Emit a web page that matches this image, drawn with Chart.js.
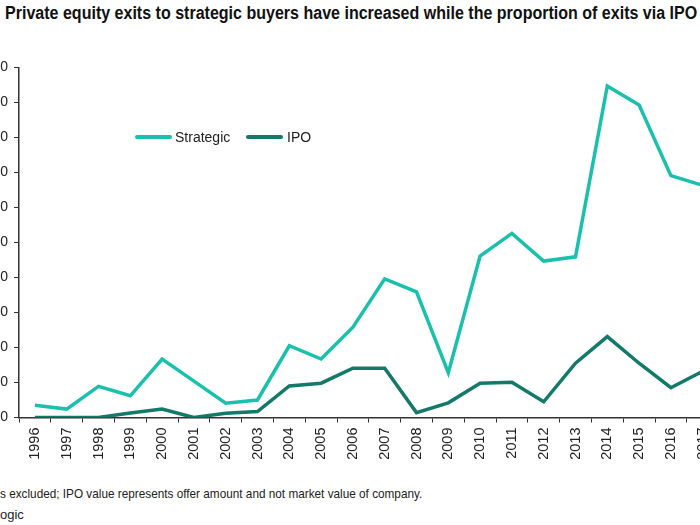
<!DOCTYPE html>
<html>
<head>
<meta charset="utf-8">
<script src="https://cdn.jsdelivr.net/npm/chart.js@4"></script>
<style>
  html, body { margin: 0; padding: 0; background: #fff; }
  body { width: 700px; height: 525px; overflow: hidden; position: relative; font-family: "Liberation Sans", Arial, sans-serif; }
  #title {
    position: absolute; left: 5px; top: 3px; white-space: nowrap; transform-origin: 0 0;
    font-family: "Liberation Sans", Arial, sans-serif;
    font-weight: bold; font-size: 18px; color: #111;
  }
  #wrap { position: absolute; left: -50px; top: 0; width: 780px; height: 480px; }
  .legend { position: absolute; top: 128px; font-size: 14px; color: #222; line-height: 18px; }
  .legend span.swatch { position: absolute; top: 7px; width: 37px; height: 4px; border-radius: 2px; }
  .legend span.lbl { position: absolute; white-space: nowrap; }
  .note {
    position: absolute; left: 0; white-space: nowrap; transform-origin: 0 0;
    font-family: "Liberation Sans", Arial, sans-serif;
    font-size: 13px; color: #222;
  }
</style>
</head>
<body>
<div id="title">Private equity exits to strategic buyers have increased while the proportion of exits via IPO</div>
<div id="wrap"><canvas id="exits-chart"></canvas></div>

<div class="legend" style="left:0">
  <span class="swatch" style="left:135px;background:#19c1ac"></span>
  <span class="lbl" style="left:175px">Strategic</span>
  <span class="swatch" style="left:246px;background:#137a69"></span>
  <span class="lbl" style="left:287px">IPO</span>
</div>

<div class="note" id="note1" style="top:486px">s excluded; IPO value represents offer amount and not market value of company.</div>
<div class="note" style="top:507px">ogic</div>

<script>
// ── Data ──────────────────────────────────────────────────────────────────
const years = ['1996','1997','1998','1999','2000','2001','2002','2003','2004','2005','2006',
               '2007','2008','2009','2010','2011','2012','2013','2014','2015','2016','2017'];
const strategic = [3.5, 2.4, 8.9, 6.2, 16.7, 10.4, 4.1, 5.0, 20.5, 16.7, 25.8,
                   39.6, 35.9, 12.8, 46.1, 52.6, 44.7, 45.9, 94.7, 89.3, 69.1, 66.3];
const ipo       = [0, 0, 0, 1.3, 2.4, 0, 1.2, 1.7, 9.0, 9.8, 14.1,
                   14.1, 1.4, 4.2, 9.8, 10.1, 4.5, 15.5, 23.1, 15.5, 8.5, 13.2];
const yTicks    = [0, 10, 20, 30, 40, 50, 60, 70, 80, 90, 100];

const AXIS = '#333333';
const FONT = 'Liberation Sans';

// squeeze condensed-looking text to the width it takes in the original
function fitWidth(id, target) {
    const el = document.getElementById(id);
    el.style.transform = `scaleX(${target / el.scrollWidth})`;
}
fitWidth('title', 692);
fitWidth('note1', 422);

const chart = new Chart(document.getElementById('exits-chart'), {
    type: 'line',
    data: {
        labels: years,
        datasets: [
            { label: 'Strategic', data: strategic, borderColor: '#19c1ac', borderWidth: 3.5,
              pointRadius: 0, tension: 0, fill: false },
            { label: 'IPO', data: ipo, borderColor: '#137a69', borderWidth: 3.5,
              pointRadius: 0, tension: 0, fill: false },
        ],
    },
    options: {
        responsive: true,
        maintainAspectRatio: false,
        animation: false,
        layout: { padding: { top: 67.5, right: 11.4, left: 0, bottom: 0 } },
        plugins: {
            legend:  { display: false },
            tooltip: { enabled: false },
        },
        scales: {
            x: {
                offset: true,
                grid:   { offset: true, drawOnChartArea: false, drawTicks: true, tickLength: 5, color: AXIS },
                border: { display: true, color: AXIS, width: 1.5 },
                ticks:  { autoSkip: false, minRotation: 90, maxRotation: 90, padding: 5,
                          color: '#222', font: { family: FONT, size: 14.5 } },
                afterFit(scale) { scale.height = 62.5; },
            },
            y: {
                min: 0, max: 100,
                afterBuildTicks(scale) { scale.ticks = yTicks.map(v => ({ value: v })); },
                grid:   { drawOnChartArea: false, drawTicks: true, tickLength: 5, color: AXIS },
                border: { display: true, color: AXIS, width: 1.5 },
                ticks:  { padding: 6, color: '#222', font: { family: FONT, size: 14 } },
                afterFit(scale) { scale.width = 69; },
            },
        },
    },
});
</script>
</body>
</html>
